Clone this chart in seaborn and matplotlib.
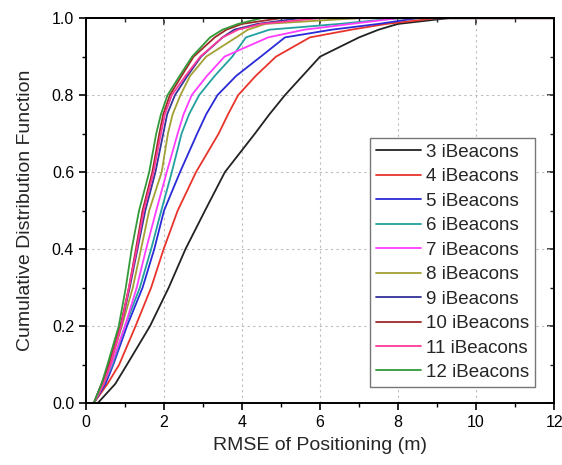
import numpy as np
import pandas as pd
import matplotlib
matplotlib.use("Agg")
import matplotlib.pyplot as plt
import seaborn as sns
from matplotlib.ticker import MultipleLocator

# CDF levels and the RMSE (m) at which each curve reaches them
levels = [0.0, 0.05, 0.1, 0.2, 0.3, 0.4, 0.5, 0.6, 0.7, 0.75, 0.8, 0.85, 0.9, 0.95, 0.97, 0.985, 1.0]

series_names = ["3 iBeacons", "4 iBeacons", "5 iBeacons", "6 iBeacons", "7 iBeacons",
                "8 iBeacons", "9 iBeacons", "10 iBeacons", "11 iBeacons", "12 iBeacons"]

rmse_3 = [0.3, 0.75, 1.05, 1.64, 2.12, 2.55, 3.05, 3.56, 4.33, 4.70, 5.10, 5.55, 6.00, 7.00, 7.50, 8.00, 9.3]
rmse_4 = [0.2, 0.55, 0.85, 1.27, 1.67, 1.99, 2.35, 2.82, 3.40, 3.64, 3.90, 4.35, 4.87, 5.74, 6.80, 7.70, 9.0]
rmse_5 = [0.2, 0.50, 0.70, 1.05, 1.45, 1.75, 2.00, 2.41, 2.85, 3.08, 3.37, 3.85, 4.48, 5.10, 6.30, 7.50, 8.5]
rmse_6 = [0.2, 0.45, 0.68, 1.00, 1.38, 1.67, 1.93, 2.20, 2.45, 2.64, 2.90, 3.30, 3.75, 4.10, 4.70, 6.50, 8.0]
rmse_7 = [0.2, 0.45, 0.65, 1.00, 1.30, 1.54, 1.80, 2.07, 2.35, 2.50, 2.71, 3.10, 3.55, 4.67, 5.60, 6.80, 8.0]
rmse_8 = [0.2, 0.45, 0.62, 0.92, 1.20, 1.41, 1.62, 1.94, 2.10, 2.22, 2.42, 2.67, 3.08, 3.85, 4.15, 4.60, 7.0]
rmse_9 = [0.2, 0.40, 0.60, 0.90, 1.12, 1.32, 1.52, 1.78, 1.98, 2.08, 2.28, 2.60, 2.95, 3.50, 3.80, 4.40, 5.5]
rmse_10 = [0.2, 0.40, 0.58, 0.88, 1.10, 1.28, 1.45, 1.70, 1.88, 1.98, 2.15, 2.45, 2.76, 3.30, 3.60, 4.00, 5.0]
rmse_11 = [0.2, 0.45, 0.62, 0.90, 1.10, 1.30, 1.48, 1.73, 1.92, 2.02, 2.20, 2.55, 2.93, 3.50, 3.90, 4.50, 6.0]
rmse_12 = [0.2, 0.40, 0.55, 0.84, 1.02, 1.17, 1.36, 1.62, 1.80, 1.92, 2.09, 2.40, 2.72, 3.18, 3.50, 3.90, 4.5]

all_rmse = [rmse_3, rmse_4, rmse_5, rmse_6, rmse_7, rmse_8, rmse_9, rmse_10, rmse_11, rmse_12]

colors = ["#222222", "#e8342b", "#2a2ad8", "#22a0a0", "#ff3cff",
          "#a3a034", "#333399", "#a02828", "#ff3a98", "#339a3a"]

x_ticks = [0, 2, 4, 6, 8, 10, 12]
y_ticks = [0.0, 0.2, 0.4, 0.6, 0.8, 1.0]

rows = []
for name, xs in zip(series_names, all_rmse):
    for xv, yv in zip(xs, levels):
        rows.append({"series": name, "rmse": xv, "cdf": yv})
    rows.append({"series": name, "rmse": 12.0, "cdf": 1.0})
df = pd.DataFrame(rows)

sns.set_style("white")
plt.rcParams["font.family"] = ["Liberation Sans", "DejaVu Sans"]

fig = plt.figure(figsize=(5.62, 4.65), dpi=100)
ax = fig.add_axes([0.153, 0.133, 0.833, 0.828])

sns.lineplot(data=df, x="rmse", y="cdf", hue="series", hue_order=series_names,
             palette=colors, estimator=None, sort=False, linewidth=1.3, ax=ax)

ax.set_xlim(0, 12)
ax.set_ylim(0, 1.0)
ax.set_xticks(x_ticks)
ax.set_yticks(y_ticks)
ax.set_xticklabels([str(t) for t in x_ticks])
ax.set_yticklabels([f"{t:.1f}" for t in y_ticks])
ax.xaxis.set_minor_locator(MultipleLocator(1))
ax.yaxis.set_minor_locator(MultipleLocator(0.1))

ax.grid(True, which="major", linestyle=(0, (2, 3)), color="#bbbbbb", linewidth=0.8)
for s in ax.spines.values():
    s.set_visible(True)
    s.set_color("black")
    s.set_linewidth(1.4)

ax.tick_params(which="both", bottom=True, left=True, top=False, right=False,
               direction="out", colors="black", labelsize=11.5)
ax.tick_params(which="major", length=5, width=1.2)
ax.tick_params(which="minor", length=3, width=1.0)

# mirrored inward ticks on top and right
sec_x = ax.secondary_xaxis("top")
sec_x.set_xticks(x_ticks)
sec_x.xaxis.set_minor_locator(MultipleLocator(1))
sec_x.tick_params(which="both", direction="in", labeltop=False)
sec_x.tick_params(which="major", length=5, width=1.2)
sec_x.tick_params(which="minor", length=3, width=1.0)
sec_x.set_xticklabels([])
sec_x.spines["top"].set_linewidth(1.4)
sec_y = ax.secondary_yaxis("right")
sec_y.set_yticks(y_ticks)
sec_y.yaxis.set_minor_locator(MultipleLocator(0.1))
sec_y.tick_params(which="both", direction="in")
sec_y.tick_params(which="major", length=5, width=1.2)
sec_y.tick_params(which="minor", length=3, width=1.0)
sec_y.set_yticklabels([])
sec_y.spines["right"].set_linewidth(1.4)

ax.set_xlabel("RMSE of Positioning (m)", fontsize=14, labelpad=5)
ax.set_ylabel("Cumulative Distribution Function", fontsize=14, labelpad=13)

leg = ax.legend(loc="upper left", bbox_to_anchor=(0.607, 0.688), fontsize=13.5,
                frameon=True, fancybox=False, edgecolor="#777777", framealpha=1,
                handlelength=2.4, handletextpad=0.3, labelspacing=0.39,
                borderpad=0.3, borderaxespad=0)
leg.get_frame().set_linewidth(1.0)

fig.savefig("out.png", dpi=100)
